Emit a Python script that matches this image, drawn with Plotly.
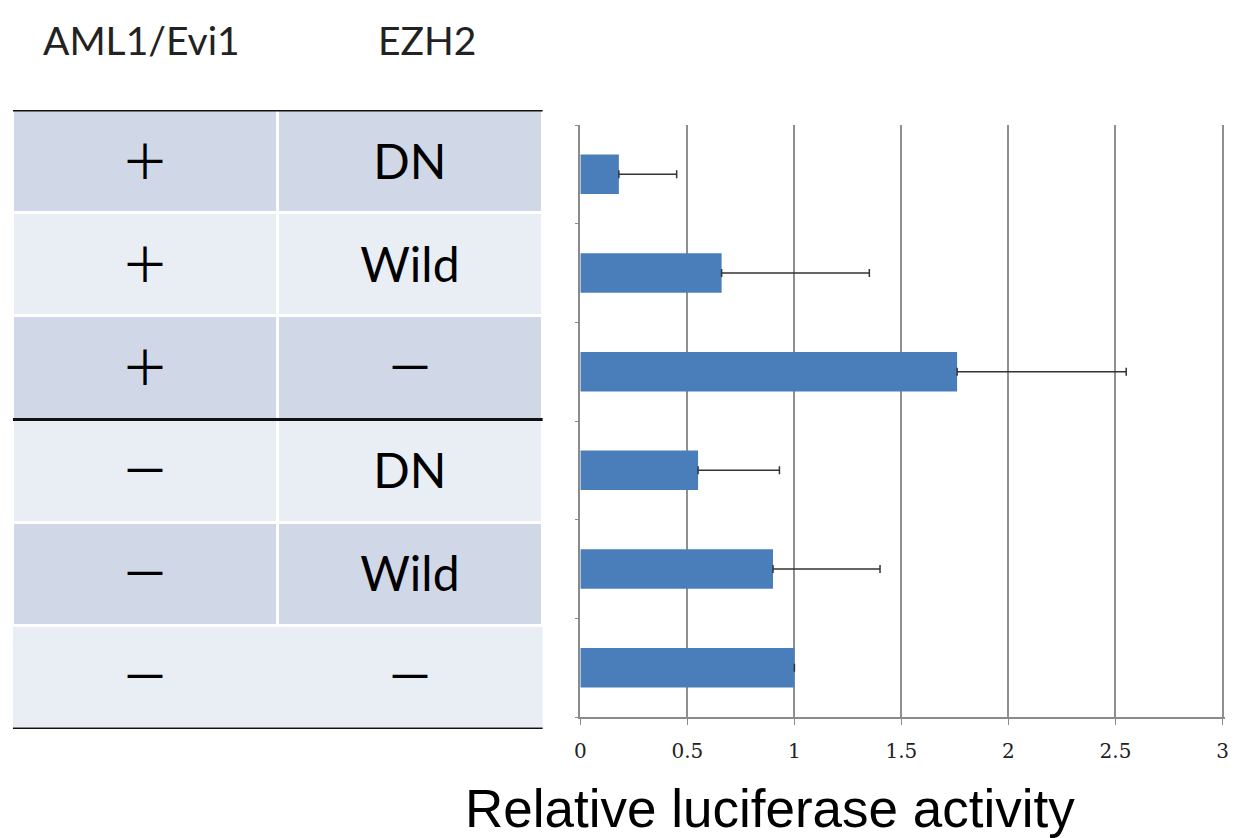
import plotly.graph_objects as go

# Conditions (rows top to bottom)
aml1_evi1 = ["＋", "＋", "＋", "－", "－", "－"]
ezh2 = ["DN", "Wild", "－", "DN", "Wild", "－"]
column_headers = ["AML1/Evi1", "EZH2"]

# Relative luciferase activity and upper error
activity = [0.18, 0.66, 1.76, 0.55, 0.90, 1.00]
error_plus = [0.27, 0.69, 0.79, 0.38, 0.50, None]

x_ticks = [0, 0.5, 1, 1.5, 2, 2.5, 3]

W, H = 1242, 838
rows = list(range(len(activity)))

DARK = "#D0D8E8"
LIGHT = "#E9EDF4"
CELL_FONT = dict(family="Lato, 'Noto Sans CJK JP'", size=48, color="#000000")


def px_x(p):
    return p / W


def px_y(p):
    return 1 - p / H


fig = go.Figure()

# Condition table: alternating row shading, white gaps between cells
shade = [i % 2 for i in rows]
body = rows[:-1]
fig.add_trace(go.Heatmap(
    x=[0, 1], y=body,
    z=[[shade[i], shade[i]] for i in body],
    text=[[aml1_evi1[i], ezh2[i]] for i in body],
    texttemplate="%{text}", textfont=CELL_FONT,
    colorscale=[[0, DARK], [1, LIGHT]], zmin=0, zmax=1,
    xgap=3, ygap=3, showscale=False, hoverinfo="skip",
    xaxis="x2", yaxis="y2",
))
last = rows[-1]
fig.add_trace(go.Heatmap(
    x=[0, 1], y=[last],
    z=[[shade[last], shade[last]]],
    text=[[aml1_evi1[last], ezh2[last]]],
    texttemplate="%{text}", textfont=CELL_FONT,
    colorscale=[[0, DARK], [1, LIGHT]], zmin=0, zmax=1,
    xgap=0, ygap=3, showscale=False, hoverinfo="skip",
    xaxis="x2", yaxis="y2",
))

# Horizontal bars with one-sided error bars
fig.add_trace(go.Bar(
    x=activity, y=rows, orientation="h", width=0.4,
    marker=dict(color="#4A7EBB", line=dict(width=0)),
    error_x=dict(type="data", symmetric=False, array=error_plus,
                 arrayminus=[0] * len(activity),
                 color="#333333", thickness=1.5, width=4),
    hoverinfo="x",
))

# Black rules above, between the two groups, and below the table
for yv in (-0.5, 2.5, 5.5):
    fig.add_shape(type="line", xref="x2 domain", yref="y2",
                  x0=0, x1=1, y0=yv, y1=yv,
                  line=dict(color="#111111", width=3))

# Column headers
for xv, label in zip([px_x(137), px_x(424)], column_headers):
    fig.add_annotation(x=xv, y=px_y(40), xref="paper", yref="paper",
                       text=label, showarrow=False,
                       font=dict(family="Lato", size=39, color="#222222"),
                       xanchor="center", yanchor="middle")

# Axis title
fig.add_annotation(x=px_x(770), y=px_y(808), xref="paper", yref="paper",
                   text="Relative luciferase activity", showarrow=False,
                   font=dict(family="Liberation Sans, Arial", size=53, color="#000000"),
                   xanchor="center", yanchor="middle")

fig.update_layout(
    width=W, height=H,
    margin=dict(l=0, r=0, t=0, b=0),
    paper_bgcolor="white", plot_bgcolor="white",
    showlegend=False,
    xaxis=dict(
        # small headroom past 3 so the last gridline is kept
        domain=[px_x(579), px_x(1229)], range=[0, 3.012],
        tickvals=x_ticks, ticktext=[f"{v:g}" for v in x_ticks],
        showgrid=True, gridcolor="#8F8F8F", gridwidth=1.5,
        showline=True, linecolor="#8A8A8A", linewidth=2,
        ticks="outside", ticklen=6, tickcolor="#8A8A8A",
        ticklabelstandoff=9,
        tickfont=dict(family="DejaVu Serif", size=20, color="#222222"),
        zeroline=False, anchor="y",
    ),
    yaxis=dict(
        domain=[px_y(717), px_y(125)], range=[5.5, -0.5],
        tickvals=[r - 0.5 for r in rows] + [rows[-1] + 0.5],
        showticklabels=False, ticks="outside", ticklen=4, tickcolor="#8A8A8A",
        showline=True, linecolor="#8A8A8A", linewidth=1.5,
        showgrid=False, zeroline=False, anchor="x",
    ),
    xaxis2=dict(
        domain=[px_x(7), px_x(541)], range=[-0.5, 1.5],
        visible=False, anchor="y2",
    ),
    yaxis2=dict(
        domain=[px_y(729), px_y(110)], range=[5.5, -0.5],
        visible=False, anchor="x2",
    ),
)

fig.write_html("out.html")
